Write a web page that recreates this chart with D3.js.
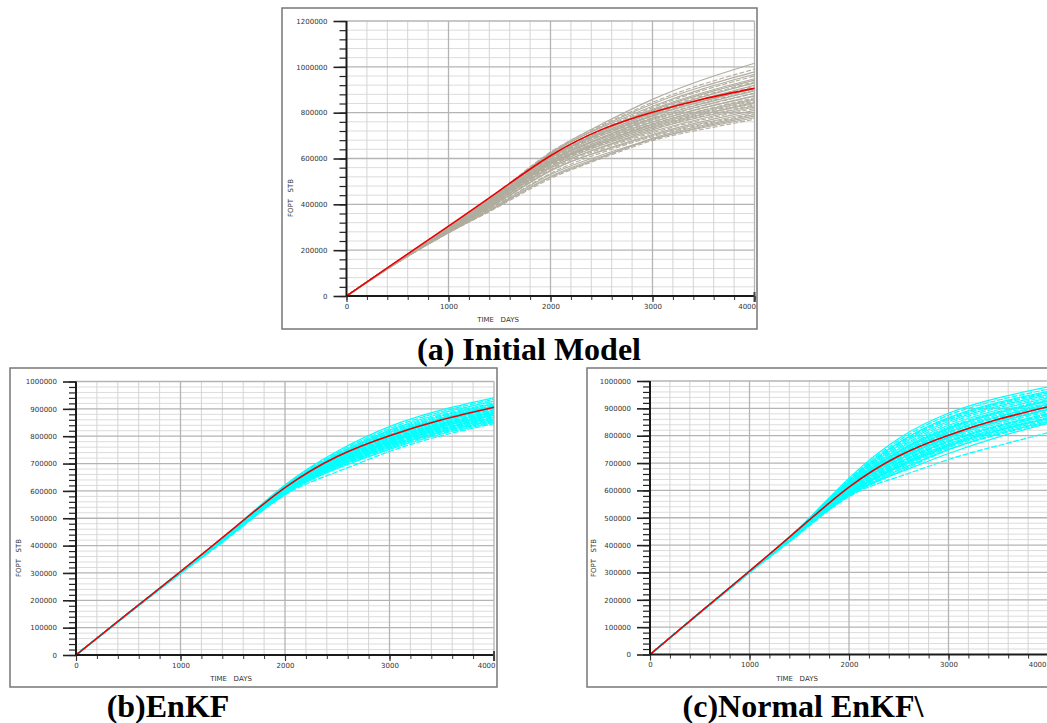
<!DOCTYPE html>
<html>
<head>
<meta charset="utf-8">
<script src="https://cdn.jsdelivr.net/npm/d3@7"></script>
<style>
  html, body { margin: 0; padding: 0; background: #fff; }
  svg { display: block; }
  .tick text { font-family: "DejaVu Sans", sans-serif; font-size: 7px; fill: #333; }
  .lbl { font-family: "DejaVu Sans", sans-serif; font-size: 7px; fill: #333; }
  .cap { font-family: "Liberation Serif", "Times New Roman", serif; font-weight: bold; font-size: 32px; fill: #000; }
</style>
</head>
<body>
<svg id="fig" width="1047" height="723"></svg>
<script>
// Sample times (days) shared by every curve
const times = [0, 500, 1000, 1500, 2000, 2500, 3000, 3500, 4000];

// Observed field oil production total (thousand STB)
const observedFopt = [0, 153, 305, 460, 612, 726, 802, 860, 906];

// (a) initial ensemble, FOPT in thousand STB at each sample time
const initialEnsemble = [
  [0, 152, 300, 455, 625, 750, 858, 945, 1016],
  [0, 153, 302, 458, 628, 745, 845, 925, 990],
  [0, 152, 298, 452, 620, 740, 838, 915, 978],
  [0, 152, 300, 455, 622, 735, 828, 905, 968],
  [0, 151, 296, 448, 612, 728, 822, 898, 960],
  [0, 152, 298, 450, 615, 725, 815, 888, 948],
  [0, 151, 295, 445, 605, 718, 810, 882, 942],
  [0, 151, 297, 448, 610, 720, 806, 875, 935],
  [0, 150, 294, 442, 600, 712, 800, 870, 930],
  [0, 151, 296, 446, 606, 712, 795, 862, 920],
  [0, 150, 292, 440, 598, 705, 790, 858, 915],
  [0, 151, 295, 444, 602, 708, 788, 852, 908],
  [0, 150, 290, 436, 592, 700, 785, 850, 905],
  [0, 150, 293, 440, 596, 700, 778, 843, 898],
  [0, 149, 289, 434, 588, 692, 775, 840, 895],
  [0, 150, 291, 437, 590, 692, 770, 832, 886],
  [0, 149, 288, 432, 585, 688, 766, 830, 884],
  [0, 150, 290, 434, 586, 686, 760, 822, 875],
  [0, 149, 287, 430, 580, 680, 758, 820, 872],
  [0, 149, 289, 432, 582, 678, 752, 812, 865],
  [0, 149, 286, 428, 576, 672, 750, 810, 860],
  [0, 149, 288, 430, 578, 672, 745, 804, 855],
  [0, 148, 285, 425, 570, 665, 740, 800, 850],
  [0, 149, 287, 428, 574, 666, 738, 795, 845],
  [0, 148, 284, 422, 565, 658, 732, 792, 840],
  [0, 148, 286, 425, 568, 660, 730, 786, 834],
  [0, 148, 283, 418, 558, 650, 725, 783, 830],
  [0, 148, 284, 420, 560, 648, 718, 776, 825],
  [0, 147, 282, 415, 552, 642, 712, 770, 818],
  [0, 147, 280, 410, 545, 635, 705, 762, 810],
  [0, 147, 281, 412, 548, 632, 700, 755, 802],
  [0, 146, 278, 405, 535, 625, 695, 750, 795],
  [0, 146, 279, 402, 530, 615, 685, 740, 785],
  [0, 146, 276, 398, 522, 608, 683, 735, 778],
  [0, 145, 275, 392, 512, 600, 678, 728, 771],
  [0, 146, 276, 396, 518, 604, 688, 745, 792]
];

// (b) EnKF updated ensemble (thousand STB)
const enkfEnsemble = [
  [0, 153, 305, 460, 622, 745, 835, 896, 941],
  [0, 153, 305, 459, 620, 740, 828, 890, 935],
  [0, 153, 304, 458, 618, 736, 822, 884, 928],
  [0, 153, 305, 458, 616, 733, 818, 878, 922],
  [0, 153, 304, 457, 615, 730, 814, 874, 918],
  [0, 153, 304, 457, 614, 728, 810, 870, 914],
  [0, 153, 303, 456, 612, 725, 806, 866, 910],
  [0, 153, 304, 456, 611, 722, 802, 862, 906],
  [0, 153, 303, 455, 610, 720, 800, 858, 902],
  [0, 153, 303, 455, 608, 717, 796, 855, 898],
  [0, 152, 302, 454, 607, 715, 793, 852, 895],
  [0, 153, 303, 454, 606, 713, 790, 848, 892],
  [0, 152, 302, 453, 605, 710, 787, 845, 888],
  [0, 152, 302, 452, 603, 708, 784, 842, 885],
  [0, 152, 301, 452, 602, 706, 782, 840, 882],
  [0, 152, 302, 451, 601, 704, 779, 837, 879],
  [0, 152, 301, 450, 600, 702, 777, 834, 876],
  [0, 152, 300, 449, 598, 699, 774, 830, 872],
  [0, 152, 301, 449, 597, 697, 771, 828, 869],
  [0, 152, 300, 448, 596, 695, 769, 825, 866],
  [0, 152, 300, 447, 594, 692, 766, 822, 863],
  [0, 152, 299, 446, 593, 690, 763, 819, 860],
  [0, 152, 300, 446, 592, 688, 760, 816, 857],
  [0, 152, 299, 444, 590, 685, 756, 812, 853],
  [0, 151, 298, 443, 588, 682, 752, 808, 850],
  [0, 151, 298, 441, 585, 670, 744, 802, 846],
  [0, 153, 303, 455, 609, 718, 798, 857, 904],
  [0, 152, 302, 453, 604, 712, 789, 846, 890],
  [0, 152, 301, 451, 600, 703, 778, 836, 878],
  [0, 152, 300, 448, 596, 696, 770, 826, 868],
  [0, 153, 304, 457, 613, 724, 805, 864, 912],
  [0, 152, 302, 452, 604, 709, 786, 843, 886]
];

// (c) normal-score EnKF updated ensemble (thousand STB)
const normalEnkfEnsemble = [
  [0, 153, 305, 463, 645, 790, 882, 938, 978],
  [0, 153, 305, 462, 640, 782, 875, 930, 970],
  [0, 153, 305, 462, 636, 775, 866, 922, 962],
  [0, 153, 304, 461, 632, 768, 858, 914, 955],
  [0, 153, 305, 461, 630, 763, 852, 908, 950],
  [0, 153, 304, 460, 627, 757, 845, 902, 944],
  [0, 153, 304, 460, 624, 752, 838, 895, 938],
  [0, 153, 304, 459, 621, 746, 832, 888, 932],
  [0, 153, 303, 459, 618, 740, 825, 882, 926],
  [0, 153, 304, 458, 616, 735, 820, 876, 920],
  [0, 153, 303, 458, 614, 731, 815, 871, 915],
  [0, 153, 303, 457, 611, 726, 809, 866, 910],
  [0, 153, 303, 456, 608, 721, 803, 860, 904],
  [0, 152, 302, 456, 606, 717, 798, 855, 899],
  [0, 153, 303, 455, 603, 712, 792, 850, 894],
  [0, 152, 302, 454, 600, 707, 786, 844, 888],
  [0, 152, 302, 453, 598, 703, 781, 838, 882],
  [0, 152, 301, 452, 595, 698, 776, 833, 877],
  [0, 152, 302, 451, 592, 694, 770, 828, 872],
  [0, 152, 301, 450, 590, 690, 766, 823, 866],
  [0, 152, 300, 449, 587, 685, 761, 818, 861],
  [0, 152, 301, 448, 584, 680, 756, 813, 856],
  [0, 152, 300, 446, 581, 674, 750, 808, 851],
  [0, 152, 300, 445, 578, 668, 748, 804, 848],
  [0, 152, 300, 443, 582, 665, 735, 795, 845],
  [0, 151, 299, 440, 578, 650, 713, 764, 811],
  [0, 153, 304, 459, 620, 744, 828, 885, 928],
  [0, 153, 303, 457, 612, 728, 811, 868, 912],
  [0, 152, 302, 455, 604, 714, 795, 852, 896],
  [0, 152, 301, 452, 596, 700, 778, 835, 880],
  [0, 152, 300, 449, 589, 688, 764, 820, 864],
  [0, 153, 305, 462, 634, 772, 862, 918, 958]
];

// Axis labels
const xTickValues = [0, 1000, 2000, 3000, 4000];
const yTicksInitial = [0, 200000, 400000, 600000, 800000, 1000000, 1200000];
const yTicksUpdated = [0, 100000, 200000, 300000, 400000, 500000, 600000, 700000, 800000, 900000, 1000000];
const captions = ["(a) Initial Model", "(b)EnKF", "(c)Normal EnKF\\"];
const xTitle = "TIME   DAYS";
const yTitle = "FOPT   STB";

const svg = d3.select("#fig");

function drawPanel(cfg) {
  const g = svg.append("g");
  const x = d3.scaleLinear().domain([0, 4000]).range([cfg.left, cfg.right]);
  const y = d3.scaleLinear().domain([0, cfg.yMax]).range([cfg.bottom, cfg.top]);

  // outer frame
  g.append("rect")
    .attr("x", cfg.frame[0]).attr("y", cfg.frame[1])
    .attr("width", cfg.frame[2]).attr("height", cfg.frame[3])
    .attr("fill", "#fff").attr("stroke", "#777").attr("stroke-width", 1.5);

  const clipId = "clip" + cfg.id;
  svg.append("clipPath").attr("id", clipId).append("rect")
    .attr("x", cfg.left).attr("y", cfg.top - 2)
    .attr("width", cfg.right - cfg.left + 1).attr("height", cfg.bottom - cfg.top + 2);

  // grid
  const xMinor = d3.range(0, 4001, 200);
  const yMinor = d3.range(0, cfg.yMax + 1, cfg.yMinorStep);
  const grid = g.append("g");
  grid.selectAll("line.hm").data(yMinor.filter(v => v % cfg.yMajorStep !== 0)).join("line")
    .attr("x1", cfg.left).attr("x2", cfg.right)
    .attr("y1", d => y(d)).attr("y2", d => y(d))
    .attr("stroke", "#dcdcdc").attr("stroke-width", 1);
  grid.selectAll("line.vm").data(xMinor.filter(v => v % 1000 !== 0)).join("line")
    .attr("y1", cfg.bottom).attr("y2", cfg.top)
    .attr("x1", d => x(d)).attr("x2", d => x(d))
    .attr("stroke", "#d4d4d4").attr("stroke-width", 1);
  grid.selectAll("line.hM").data(cfg.yTicks.filter(v => v > 0)).join("line")
    .attr("x1", cfg.left).attr("x2", cfg.right)
    .attr("y1", d => y(d)).attr("y2", d => y(d))
    .attr("stroke", "#b4b4b4").attr("stroke-width", 1.3);
  grid.selectAll("line.vM").data(xTickValues.filter(v => v > 0)).join("line")
    .attr("y1", cfg.bottom).attr("y2", cfg.top)
    .attr("x1", d => x(d)).attr("x2", d => x(d))
    .attr("stroke", "#b4b4b4").attr("stroke-width", 1.3);

  // curves
  const line = d3.line()
    .x((d, i) => x(times[i]))
    .y(d => y(d * 1000))
    .curve(d3.curveNatural);
  const curves = g.append("g").attr("clip-path", `url(#${clipId})`);
  curves.selectAll("path.member").data(cfg.ensemble).join("path")
    .attr("d", line)
    .attr("fill", "none")
    .attr("stroke", cfg.color)
    .attr("stroke-width", cfg.memberWidth)
    .attr("stroke-dasharray", (d, i) => (i % cfg.dashEvery === 1 ? cfg.dash : null));
  curves.append("path")
    .attr("d", line(observedFopt))
    .attr("fill", "none")
    .attr("stroke", "#ee0000")
    .attr("stroke-width", 1.6);

  // y axis: minor ticks, then labelled major ticks
  g.append("g").attr("transform", `translate(${cfg.left},0)`)
    .call(d3.axisLeft(y).tickValues(yMinor).tickSize(7).tickFormat(""))
    .call(a => a.select(".domain").remove())
    .call(a => a.selectAll("line").attr("stroke", "#222").attr("stroke-width", 1.2));
  g.append("g").attr("transform", `translate(${cfg.left},0)`)
    .call(d3.axisLeft(y).tickValues(cfg.yTicks).tickSize(13).tickPadding(6).tickFormat(d3.format("d")))
    .call(a => a.select(".domain").remove())
    .call(a => a.selectAll("line").attr("stroke", "#222").attr("stroke-width", 1.6));

  // x axis
  g.append("g").attr("transform", `translate(0,${cfg.bottom})`)
    .call(d3.axisBottom(x).tickValues(xMinor).tickSize(4).tickFormat(""))
    .call(a => a.select(".domain").remove())
    .call(a => a.selectAll("line").attr("stroke", "#333").attr("stroke-width", 1));
  const xa = g.append("g").attr("transform", `translate(0,${cfg.bottom})`)
    .call(d3.axisBottom(x).tickValues(xTickValues).tickSize(6).tickPadding(2).tickFormat(d3.format("d")))
    .call(a => a.select(".domain").remove())
    .call(a => a.selectAll("line").attr("stroke", "#333").attr("stroke-width", 1.2));
  xa.selectAll(".tick").filter(d => d === 4000).select("text")
    .attr("text-anchor", "end").attr("x", cfg.lastLabelShift);

  // axis lines
  g.append("line")
    .attr("x1", cfg.left).attr("x2", cfg.left)
    .attr("y1", cfg.bottom).attr("y2", cfg.top)
    .attr("stroke", "#1a1a1a").attr("stroke-width", 2);
  g.append("line")
    .attr("x1", cfg.left).attr("x2", cfg.right)
    .attr("y1", cfg.bottom).attr("y2", cfg.bottom)
    .attr("stroke", "#1a1a1a").attr("stroke-width", 2);
  g.append("line")
    .attr("x1", cfg.right).attr("x2", cfg.right)
    .attr("y1", cfg.bottom - 4).attr("y2", cfg.bottom + 6)
    .attr("stroke", "#444").attr("stroke-width", 2);

  // titles
  g.append("text").attr("class", "lbl")
    .attr("x", cfg.xTitlePos[0]).attr("y", cfg.xTitlePos[1])
    .attr("text-anchor", "middle").attr("dominant-baseline", "middle")
    .attr("xml:space", "preserve")
    .text(xTitle);
  g.append("text").attr("class", "lbl")
    .attr("transform", `translate(${cfg.yTitlePos[0]},${cfg.yTitlePos[1]}) rotate(-90)`)
    .attr("text-anchor", "middle").attr("dominant-baseline", "middle")
    .attr("xml:space", "preserve")
    .text(yTitle);

  svg.append("text").attr("class", "cap")
    .attr("x", cfg.capPos[0]).attr("y", cfg.capPos[1])
    .attr("text-anchor", "middle")
    .text(cfg.caption);
}

drawPanel({
  id: "a", frame: [282, 8, 475, 321],
  left: 346.5, right: 754.5, top: 21, bottom: 296,
  yMax: 1200000, yTicks: yTicksInitial, yMajorStep: 200000, yMinorStep: 40000,
  ensemble: initialEnsemble, color: "#b0ad9f", memberWidth: 1.1, dash: "5,2", dashEvery: 3,
  xTitlePos: [498, 320.5], yTitlePos: [291, 198], lastLabelShift: 1,
  caption: captions[0], capPos: [529, 360]
});

drawPanel({
  id: "b", frame: [10, 368, 487, 319],
  left: 76, right: 494, top: 381.5, bottom: 655,
  yMax: 1000000, yTicks: yTicksUpdated, yMajorStep: 100000, yMinorStep: 20000,
  ensemble: enkfEnsemble, color: "#00ffff", memberWidth: 1.2, dash: "6,1.5", dashEvery: 2,
  xTitlePos: [231, 679.5], yTitlePos: [19, 558], lastLabelShift: 1,
  caption: captions[1], capPos: [168, 717]
});

drawPanel({
  id: "c", frame: [587, 368, 480, 319],
  left: 650, right: 1048, top: 381, bottom: 654.5,
  yMax: 1000000, yTicks: yTicksUpdated, yMajorStep: 100000, yMinorStep: 20000,
  ensemble: normalEnkfEnsemble, color: "#00ffff", memberWidth: 1.2, dash: "6,1.5", dashEvery: 2,
  xTitlePos: [797, 679], yTitlePos: [594, 558], lastLabelShift: -2,
  caption: captions[2], capPos: [803, 717]
});
</script>
</body>
</html>
